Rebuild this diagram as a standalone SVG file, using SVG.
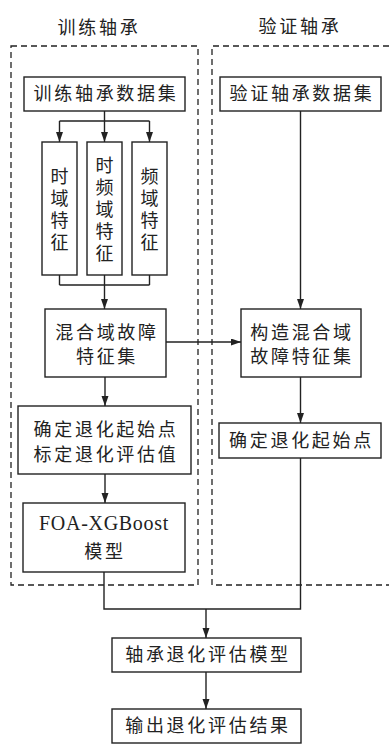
<svg xmlns="http://www.w3.org/2000/svg" width="389" height="744" viewBox="0 0 389 744">
<defs>
<style>
.bg{fill:#fff}
.box{fill:#fff;stroke:#222;stroke-width:1.4}
.dash{fill:none;stroke:#222;stroke-width:1.3;stroke-dasharray:6 4}
.ln{fill:none;stroke:#222;stroke-width:1.4}
.ar{fill:none;stroke:#222;stroke-width:1.4;marker-end:url(#ah)}
text{font-family:"Noto Sans CJK SC","Noto Sans CJK JP",sans-serif;font-size:18px;fill:#222;text-anchor:middle;letter-spacing:2.7px}
.vt{writing-mode:vertical-rl;letter-spacing:4px}
.en{font-family:"Liberation Serif","Noto Sans CJK SC",serif;font-size:20px;letter-spacing:0.7px}
</style>
<marker id="ah" markerUnits="userSpaceOnUse" markerWidth="11" markerHeight="8" refX="10" refY="3.5" orient="auto">
<path d="M0,0 L10,3.5 L0,7 z" fill="#222"/>
</marker>
</defs>
<rect class="bg" x="0" y="0" width="389" height="744"/>

<g id="containers">
<rect class="dash" x="11" y="46" width="187" height="539"/>
<path class="dash" d="M389,46 H212 V585 H389"/>
<text x="99" y="34">训练轴承</text>
<text x="300" y="33">验证轴承</text>
</g>

<g id="connectors">
<path class="ln" d="M104.5,111 V121 M59.5,121 H149.5"/>
<path class="ar" d="M59.5,121 V142"/>
<path class="ar" d="M104.5,121 V142"/>
<path class="ar" d="M149.5,121 V142"/>
<path class="ln" d="M59.5,275 V285 M104.5,275 V285 M149.5,275 V285 M59.5,285 H149.5"/>
<path class="ar" d="M104.5,285 V309"/>
<path class="ar" d="M105,377 V406"/>
<path class="ar" d="M105,474 V503"/>
<path class="ln" d="M104,572 V609 H300.5 V458"/>
<path class="ar" d="M206,609 V638"/>
<path class="ar" d="M206,672 V709"/>
<path class="ar" d="M300.5,111 V309"/>
<path class="ar" d="M166,342 H241"/>
<path class="ar" d="M300.5,377 V423"/>
</g>

<g id="train-data">
<rect class="box" x="24" y="77" width="161" height="34"/>
<text x="106" y="100">训练轴承数据集</text>
</g>
<g id="val-data">
<rect class="box" x="220" y="77" width="161" height="34"/>
<text x="302" y="100">验证轴承数据集</text>
</g>
<g id="time-feat">
<rect class="box" x="42" y="142" width="35" height="133"/>
<text class="vt" x="59.5" y="211">时域特征</text>
</g>
<g id="tf-feat">
<rect class="box" x="87" y="142" width="35" height="133"/>
<text class="vt" x="104.5" y="211">时频域特征</text>
</g>
<g id="freq-feat">
<rect class="box" x="132" y="142" width="35" height="133"/>
<text class="vt" x="149.5" y="211">频域特征</text>
</g>
<g id="mixed-set">
<rect class="box" x="45" y="309" width="121" height="68"/>
<text x="107" y="339">混合域故障</text>
<text x="107" y="363">特征集</text>
</g>
<g id="build-mixed">
<rect class="box" x="241" y="309" width="120" height="68"/>
<text x="302" y="339">构造混合域</text>
<text x="302" y="363">故障特征集</text>
</g>
<g id="label-start">
<rect class="box" x="18" y="406" width="173" height="68"/>
<text x="106" y="436">确定退化起始点</text>
<text x="106" y="461">标定退化评估值</text>
</g>
<g id="val-start">
<rect class="box" x="219" y="423" width="162" height="35"/>
<text x="301.5" y="447">确定退化起始点</text>
</g>
<g id="foa">
<rect class="box" x="23" y="503" width="162" height="69"/>
<text class="en" x="104" y="530">FOA-XGBoost</text>
<text x="105" y="558">模型</text>
</g>
<g id="model">
<rect class="box" x="112" y="638" width="189" height="34"/>
<text x="208" y="661">轴承退化评估模型</text>
</g>
<g id="output">
<rect class="box" x="112" y="709" width="189" height="34"/>
<text x="208" y="732">输出退化评估结果</text>
</g>
</svg>
